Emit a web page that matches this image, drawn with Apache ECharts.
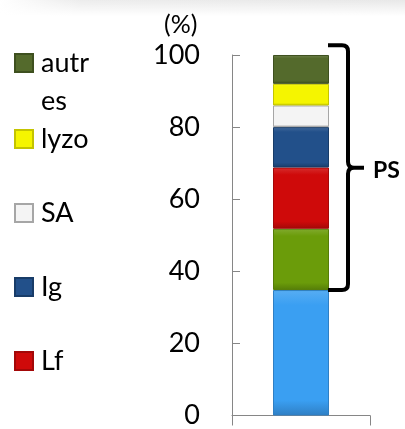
<!DOCTYPE html>
<html>
<head>
<meta charset="utf-8">
<script src="https://cdn.jsdelivr.net/npm/echarts@6/dist/echarts.min.js"></script>
<style>
  html, body { margin: 0; padding: 0; background: #fff; }
  #main { width: 405px; height: 429px; }
</style>
</head>
<body>
<div id="main"></div>
<script>
// composition (%) - stacked bottom to top
const categories = [''];
const seriesNames = ['β-Lg', 'α-La', 'Lf', 'Ig', 'SA', 'lyzo', 'autres'];
const seriesValues = [34.8, 17, 17, 11.2, 6, 6, 8];
const seriesColors = ['#3a9ff2', '#6b9c0a', '#cf0a0a', '#22508a', '#f4f4f4', '#f5f500', '#546a2c'];
const seriesBorders = ['#2f7fc4', '#557d08', '#a30808', '#183c68', '#a6a6a6', '#c4c400', '#3e501f'];
const legendNames = ['autres', 'lyzo', 'SA', 'Ig', 'Lf'];
const yMin = 0, yMax = 100, yStep = 20;
const braceFrom = 34.8, braceTo = 102.7;
const braceLabel = 'PS';

const FONT = 'Lato';
const chart = echarts.init(document.getElementById('main'));

// legend centres (px)
const legendCentres = [63, 139, 213, 287, 361];
const legends = legendNames.map((name, i) => {
  const multi = name === 'autres';
  return {
    data: [name],
    orient: 'vertical',
    left: 14,
    top: multi ? legendCentres[i] - 57 : legendCentres[i] - 15,
    padding: 0,
    icon: 'rect',
    itemWidth: 18,
    itemHeight: 18,
    selectedMode: false,
    // leading empty line so the first line of the wrapped name sits beside the icon
    formatter: multi ? (n) => '\n' + n : undefined,
    textStyle: multi ? {
      fontFamily: FONT, fontSize: 27, color: '#000',
      width: 52, overflow: 'breakAll', lineHeight: 38,
      padding: [0, 0, 0, 3]
    } : {
      fontFamily: FONT, fontSize: 27, color: '#000',
      lineHeight: 30, padding: [0, 0, 0, 3]
    }
  };
});

const series = seriesNames.map((name, i) => ({
  name: name,
  type: 'bar',
  stack: 'total',
  barWidth: 56,
  data: [seriesValues[i]],
  itemStyle: {
    color: new echarts.graphic.LinearGradient(0, 0, 0, 1, [
      { offset: 0, color: echarts.color.lift(seriesColors[i], 0.15) },
      { offset: 0.12, color: seriesColors[i] },
      { offset: 0.88, color: seriesColors[i] },
      { offset: 1, color: seriesBorders[i] }
    ]),
    borderColor: seriesBorders[i],
    borderWidth: 1
  }
}));

// curly brace + PS label, drawn through the axes
series.push({
  name: braceLabel,
  type: 'custom',
  silent: true,
  z: 10,
  data: [[0, braceFrom, braceTo]],
  renderItem: function (params, api) {
    const bottom = api.coord([api.value(0), api.value(1)]);
    const top = api.coord([api.value(0), api.value(2)]);
    const x0 = bottom[0] + 27;
    const x1 = x0 + 20;
    const xm = x1 + 16;
    const yt = top[1], yb = bottom[1], ym = (yt + yb) / 2;
    const r = 6;
    const d =
      'M' + x0 + ',' + yt + ' L' + (x1 - r) + ',' + yt + ' Q' + x1 + ',' + yt + ' ' + x1 + ',' + (yt + r) +
      ' L' + x1 + ',' + (ym - r) + ' Q' + x1 + ',' + ym + ' ' + (x1 + r) + ',' + ym +
      ' Q' + x1 + ',' + ym + ' ' + x1 + ',' + (ym + r) +
      ' L' + x1 + ',' + (yb - r) + ' Q' + x1 + ',' + yb + ' ' + (x1 - r) + ',' + yb + ' L' + x0 + ',' + yb +
      ' M' + (x1 + r) + ',' + ym + ' L' + xm + ',' + ym;
    return {
      type: 'group',
      children: [
        {
          type: 'path',
          shape: { pathData: d },
          style: { fill: null, stroke: '#000', lineWidth: 4, lineJoin: 'round' }
        },
        {
          type: 'text',
          x: xm + 9,
          y: ym + 3,
          style: {
            text: braceLabel,
            fontFamily: FONT,
            fontSize: 23,
            fontWeight: 'bold',
            fill: '#000',
            verticalAlign: 'middle'
          }
        }
      ]
    };
  }
});

chart.setOption({
  animation: false,
  backgroundColor: '#fff',
  title: {
    text: '(%)',
    left: 159,
    top: 7,
    textStyle: { fontFamily: FONT, fontSize: 25, fontWeight: 'normal', color: '#000' }
  },
  legend: legends,
  grid: { left: 232, right: 35, top: 55, bottom: 11, containLabel: false },
  xAxis: {
    type: 'category',
    data: categories,
    axisLine: { lineStyle: { color: '#868686', width: 1 } },
    axisTick: { show: true, length: 10, lineStyle: { color: '#868686' } },
    axisLabel: { show: false }
  },
  yAxis: {
    type: 'value',
    min: yMin,
    max: yMax,
    interval: yStep,
    axisLine: { show: true, lineStyle: { color: '#868686', width: 1 } },
    axisTick: { show: true, inside: true, length: 8, lineStyle: { color: '#868686' } },
    splitLine: { show: false },
    axisLabel: { margin: 32, fontFamily: FONT, fontSize: 27, color: '#000' }
  },
  graphic: [
    {
      type: 'rect',
      left: 0, top: 0, z: -1,
      shape: { width: 405, height: 16 },
      style: {
        fill: new echarts.graphic.LinearGradient(0, 0, 1, 0, [
          { offset: 0, color: '#ffffff' },
          { offset: 0.2, color: '#ececec' },
          { offset: 1, color: '#e8e8e8' }
        ])
      },
      silent: true
    },
    {
      type: 'rect',
      left: 0, top: 0, z: -1,
      shape: { width: 405, height: 16 },
      style: {
        fill: new echarts.graphic.LinearGradient(0, 0, 0, 1, [
          { offset: 0, color: 'rgba(255,255,255,0)' },
          { offset: 1, color: '#ffffff' }
        ])
      },
      silent: true
    }
  ],
  series: series
});
</script>
</body>
</html>
